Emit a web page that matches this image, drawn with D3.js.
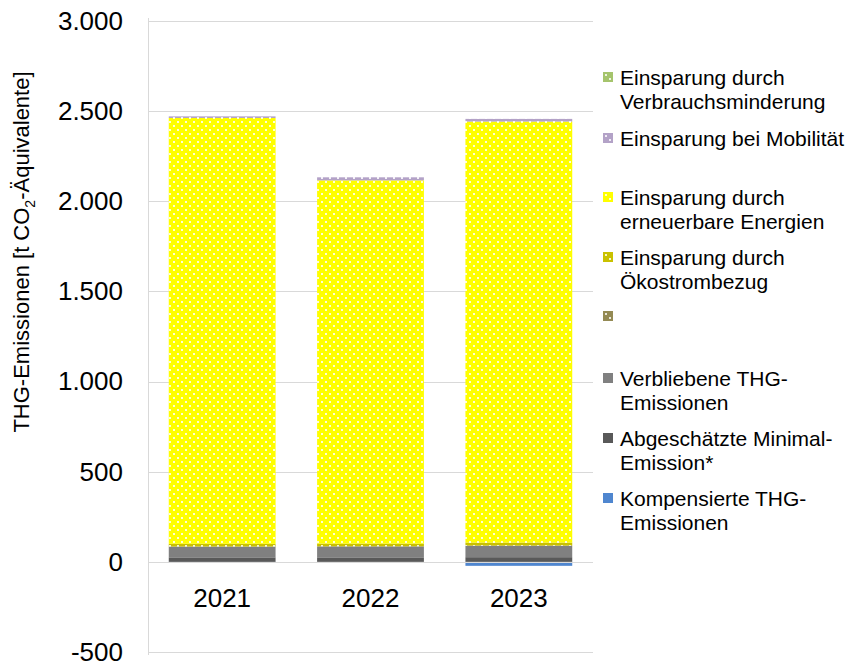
<!DOCTYPE html>
<html>
<head>
<meta charset="utf-8">
<script src="https://cdn.jsdelivr.net/npm/d3@7"></script>
<style>
  body { margin: 0; background: #fff; }
  text { font-family: "Liberation Sans", Arial, sans-serif; fill: #000; }
</style>
</head>
<body>
<div id="chart"></div>
<script>
// data
const years = ['2021', '2022', '2023'];
const minimalEmission = [25, 25, 26];
const verbliebene = [60, 61, 64];
const leer = [0, 0, 0];
const oekostrom = [15, 15, 17];
const erneuerbare = [2362, 2015, 2335];
const mobilitaet = [9, 17, 15];
const verbrauch = [0, 0, 0];
const kompensiert = [-5, 0, -22];
const yTicks = [-500, 0, 500, 1000, 1500, 2000, 2500, 3000];

const w = 849;
const h = 664;

// stacking order bottom -> top
const series = [
    { key: 'komp', label: ['Kompensierte THG-', 'Emissionen'], values: kompensiert, color: '#4f86cf', dots: false },
    { key: 'min', label: ['Abgeschätzte Minimal-', 'Emission*'], values: minimalEmission, color: '#595959', dots: false },
    { key: 'verb', label: ['Verbliebene THG-', 'Emissionen'], values: verbliebene, color: '#808080', dots: false },
    { key: 'leer', label: [''], values: leer, color: '#948a54', dots: true },
    { key: 'oeko', label: ['Einsparung durch', 'Ökostrombezug'], values: oekostrom, color: '#c9c100', dots: true },
    { key: 'ee', label: ['Einsparung durch', 'erneuerbare Energien'], values: erneuerbare, color: '#ffff00', dots: true },
    { key: 'mob', label: ['Einsparung bei Mobilität'], values: mobilitaet, color: '#b3a2c7', dots: true },
    { key: 'vm', label: ['Einsparung durch', 'Verbrauchsminderung'], values: verbrauch, color: '#a5c46c', dots: true }
];

const rows = years.map((y, i) => {
    const r = { year: y };
    series.forEach(s => r[s.key] = s.values[i]);
    return r;
});

const locale = d3.formatLocale({ decimal: ',', thousands: '.', grouping: [3], currency: ['', '€'], minus: '-' });
const fmt = locale.format(',d');

const svg = d3.select('#chart').append('svg')
    .attr('width', w)
    .attr('height', h);

// dotted fills
const defs = svg.append('defs');
series.filter(s => s.dots).forEach(s => {
    const p = defs.append('pattern')
        .attr('id', 'pat-' + s.key)
        .attr('patternUnits', 'userSpaceOnUse')
        .attr('width', 8)
        .attr('height', 8);
    p.append('rect').attr('width', 8).attr('height', 8).attr('fill', s.color);
    p.append('rect').attr('x', 1).attr('y', 1).attr('width', 2).attr('height', 2).attr('fill', '#fff').attr('opacity', 0.85);
    p.append('rect').attr('x', 5).attr('y', 5).attr('width', 2).attr('height', 2).attr('fill', '#fff').attr('opacity', 0.85);
});
const fillOf = s => s.dots ? `url(#pat-${s.key})` : s.color;

const plot = { left: 148, right: 593, top: 21, bottom: 652 };

const x = d3.scaleBand()
    .domain(years)
    .range([plot.left, plot.right])
    .paddingInner(0.28)
    .paddingOuter(0.14);

const y = d3.scaleLinear()
    .domain([-500, 3000])
    .range([plot.bottom, plot.top]);

// gridlines
svg.append('g')
    .selectAll('line')
    .data(yTicks)
    .enter()
    .append('line')
    .attr('x1', plot.left)
    .attr('x2', plot.right)
    .attr('y1', d => Math.round(y(d)) + 0.5)
    .attr('y2', d => Math.round(y(d)) + 0.5)
    .attr('stroke', '#d9d9d9')
    .attr('stroke-width', 1);

svg.append('line')
    .attr('x1', plot.left + 0.5)
    .attr('x2', plot.left + 0.5)
    .attr('y1', plot.top - 3)
    .attr('y2', plot.bottom + 3)
    .attr('stroke', '#d9d9d9');

// bars
const stack = d3.stack()
    .keys(series.map(s => s.key))
    .offset(d3.stackOffsetDiverging);
const stacked = stack(rows);

stacked.forEach((layer, li) => {
    const s = series[li];
    svg.append('g')
        .selectAll('rect')
        .data(layer)
        .enter()
        .append('rect')
        .attr('x', d => x(d.data.year))
        .attr('width', x.bandwidth())
        .attr('y', d => y(Math.max(d[0], d[1])))
        .attr('height', d => Math.abs(y(d[0]) - y(d[1])))
        .attr('fill', fillOf(s));
});

// zero line over the bars
svg.append('line')
    .attr('x1', plot.left)
    .attr('x2', plot.right)
    .attr('y1', Math.round(y(0)) + 0.5)
    .attr('y2', Math.round(y(0)) + 0.5)
    .attr('stroke', '#d9d9d9');

// y axis labels
const yAxis = d3.axisLeft(y)
    .tickValues(yTicks)
    .tickFormat(fmt)
    .tickSize(0)
    .tickPadding(25);
const yg = svg.append('g')
    .attr('transform', `translate(${plot.left},0)`)
    .call(yAxis);
yg.select('.domain').remove();
yg.selectAll('text')
    .style('font-size', '26px')
    .style('font-family', '"Liberation Sans", Arial, sans-serif');

// x labels
svg.append('g')
    .selectAll('text')
    .data(years)
    .enter()
    .append('text')
    .attr('x', d => x(d) + x.bandwidth() / 2)
    .attr('y', 607)
    .attr('text-anchor', 'middle')
    .style('font-size', '26px')
    .text(d => d);

// y title
const title = svg.append('text')
    .attr('transform', 'translate(29,252) rotate(-90)')
    .attr('text-anchor', 'middle')
    .style('font-size', '22px');
title.append('tspan').text('THG-Emissionen [t CO');
title.append('tspan').attr('dy', 6).style('font-size', '14px').text('2');
title.append('tspan').attr('dy', -6).text('-Äquivalente]');

// legend
const legendTop = [77, 138, 197, 257, 316, 378, 438, 498];
const legendSeries = series.slice().reverse();
const lg = svg.append('g')
    .selectAll('g')
    .data(legendSeries)
    .enter()
    .append('g')
    .attr('transform', (d, i) => `translate(603,${legendTop[i]})`);

lg.append('rect')
    .attr('x', 0)
    .attr('y', -5)
    .attr('width', 10)
    .attr('height', 10)
    .attr('fill', d => d.color);
lg.filter(d => d.dots).append('rect')
    .attr('x', 2).attr('y', -3).attr('width', 2).attr('height', 2).attr('fill', '#fff').attr('opacity', 0.8);
lg.filter(d => d.dots).append('rect')
    .attr('x', 6).attr('y', 1).attr('width', 2).attr('height', 2).attr('fill', '#fff').attr('opacity', 0.8);

lg.append('text')
    .attr('x', 17)
    .attr('y', 8)
    .style('font-size', '21px')
    .selectAll('tspan')
    .data(d => d.label)
    .enter()
    .append('tspan')
    .attr('x', 17)
    .attr('dy', (d, i) => i === 0 ? 0 : 23.5)
    .text(d => d);
</script>
</body>
</html>
